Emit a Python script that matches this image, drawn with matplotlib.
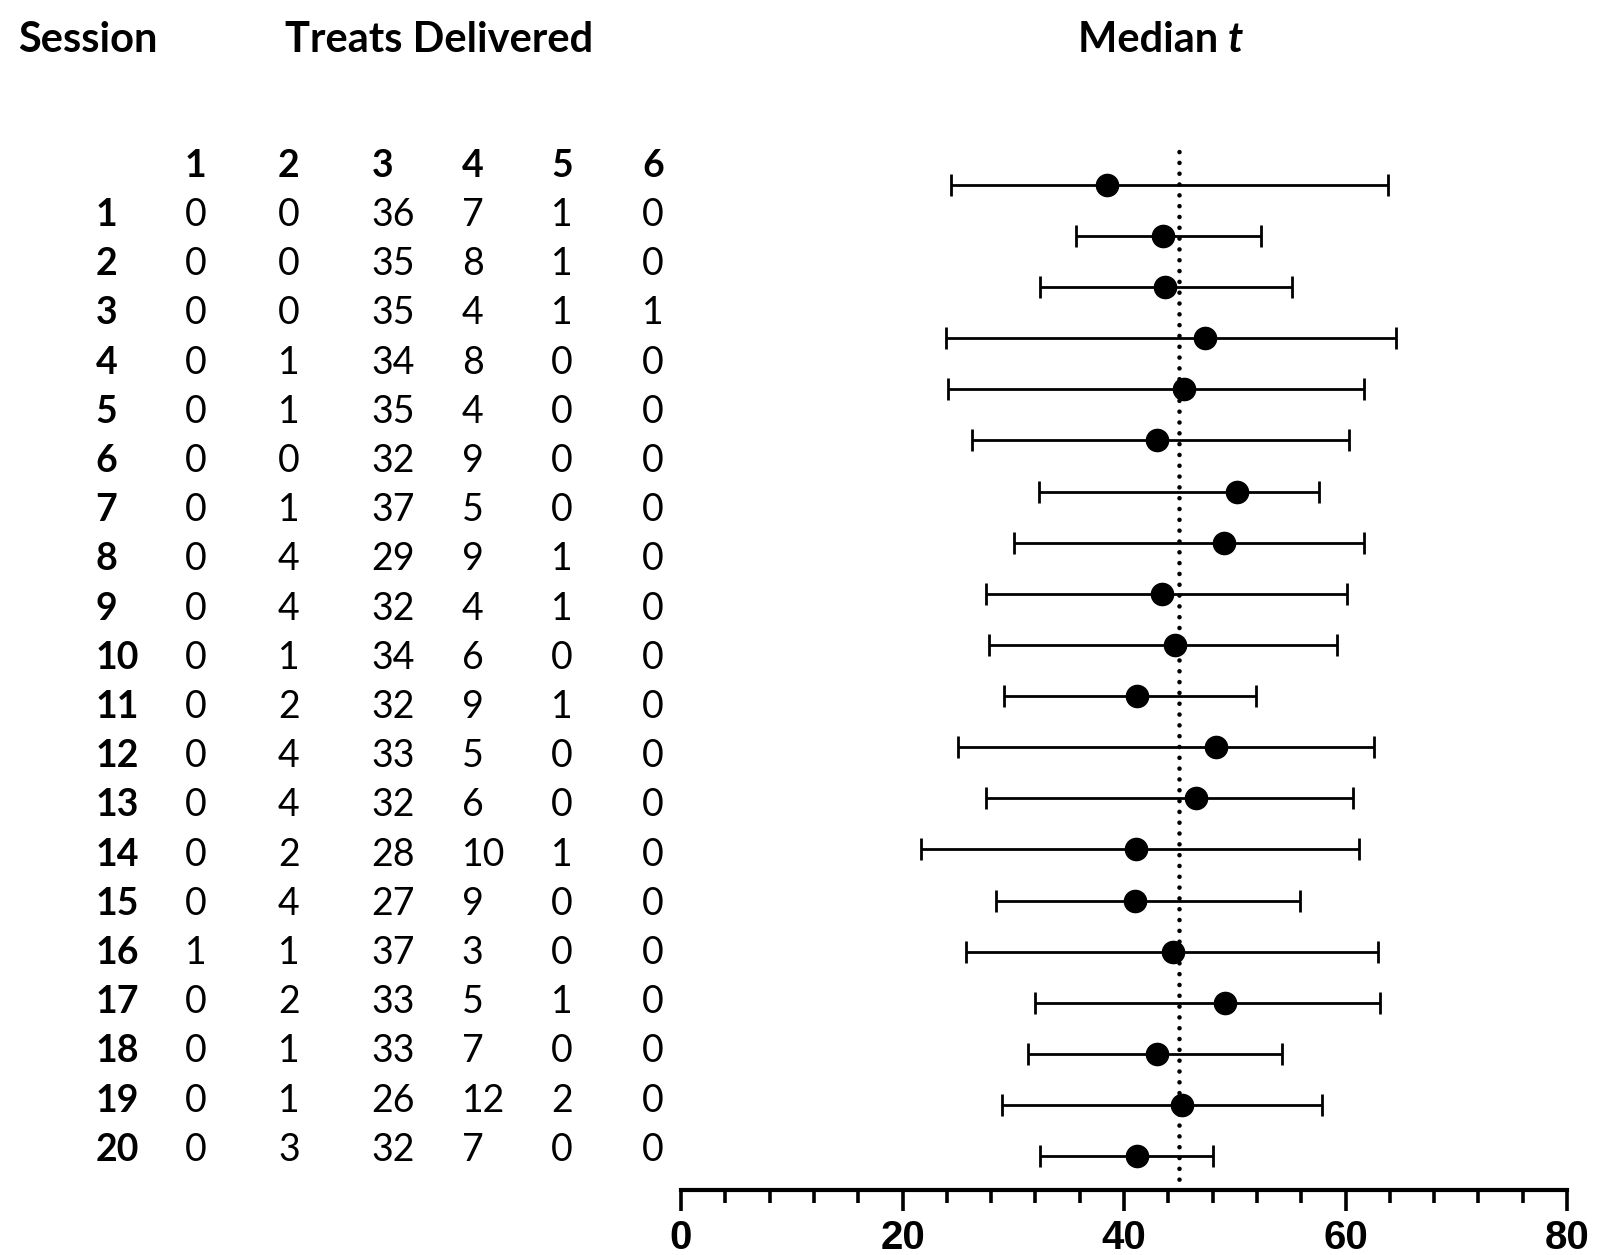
import matplotlib
matplotlib.use("Agg")
from matplotlib import pyplot as plt
import numpy as np

sessions = list(range(1, 21))
treat_cols = ['1', '2', '3', '4', '5', '6']

# treats delivered, one list per column
treats_1 = [0, 0, 0, 0, 0, 0, 0, 0, 0, 0, 0, 0, 0, 0, 0, 1, 0, 0, 0, 0]
treats_2 = [0, 0, 0, 1, 1, 0, 1, 4, 4, 1, 2, 4, 4, 2, 4, 1, 2, 1, 1, 3]
treats_3 = [36, 35, 35, 34, 35, 32, 37, 29, 32, 34, 32, 33, 32, 28, 27, 37, 33, 33, 26, 32]
treats_4 = [7, 8, 4, 8, 4, 9, 5, 9, 4, 6, 9, 5, 6, 10, 9, 3, 5, 7, 12, 7]
treats_5 = [1, 1, 1, 0, 0, 0, 0, 1, 1, 0, 1, 0, 0, 1, 0, 0, 1, 0, 2, 0]
treats_6 = [0, 0, 1, 0, 0, 0, 0, 0, 0, 0, 0, 0, 0, 0, 0, 0, 0, 0, 0, 0]

# median t with range per session
median_t = [38.5, 43.5, 43.7, 47.3, 45.4, 43.0, 50.2, 49.0, 43.4, 44.6,
            41.2, 48.3, 46.5, 41.1, 41.0, 44.4, 49.1, 43.0, 45.2, 41.2]
lower_t = [24.4, 35.7, 32.4, 23.9, 24.1, 26.3, 32.3, 30.1, 27.5, 27.8,
           29.2, 25.0, 27.5, 21.7, 28.4, 25.7, 32.0, 31.3, 29.0, 32.4]
upper_t = [63.8, 52.4, 55.2, 64.6, 61.7, 60.3, 57.6, 61.7, 60.1, 59.2,
           51.9, 62.6, 60.7, 61.2, 55.9, 62.9, 63.1, 54.3, 57.9, 48.0]
ref_line = 45

W, H = 1609, 1255
fig = plt.figure(figsize=(W / 100, H / 100), dpi=100)


def fx(x):
    return x / W


def fy(y):
    return 1 - y / H


txt_font = 'Lato'

# titles
title_y = 40
fig.text(fx(18), fy(title_y), 'Session', fontsize=30, fontweight='bold',
         family=txt_font, ha='left', va='center')
fig.text(fx(439), fy(title_y), 'Treats Delivered', fontsize=30, fontweight='bold',
         family=txt_font, ha='center', va='center')
t1 = fig.text(fx(1161) - 8 / W, fy(title_y), 'Median ', fontsize=30, fontweight='bold',
              family=txt_font, ha='center', va='center')
fig.canvas.draw()
bb = t1.get_window_extent()
fig.text(bb.x1 / W, fy(title_y), 't', fontsize=30, fontweight='bold', style='italic',
         family=txt_font, ha='left', va='center')

# table
col_x = [180, 271, 362, 450, 537, 626]
col_x = [c * 1.026 for c in col_x]
head_y = 166
row_y0, row_dy = 215, 49.2
cols = [treats_1, treats_2, treats_3, treats_4, treats_5, treats_6]
for cx, lab in zip(col_x, treat_cols):
    fig.text(fx(cx), fy(head_y), lab, fontsize=27, fontweight='bold',
             family=txt_font, ha='left', va='center')
for i, s in enumerate(sessions):
    y = row_y0 + i * row_dy
    fig.text(fx(95.5), fy(y), str(s), fontsize=27, fontweight='bold',
             family=txt_font, ha='left', va='center')
    for cx, col in zip(col_x, cols):
        fig.text(fx(cx), fy(y), str(col[i]), fontsize=27,
                 family=txt_font, ha='left', va='center')

# forest plot
ax = fig.add_axes([fx(681), fy(1190), fx(1567) - fx(681), (1190 - 149) / H])
ypos = np.array(sessions)
med = np.array(median_t)
err = [med - np.array(lower_t), np.array(upper_t) - med]
ax.errorbar(med, ypos, xerr=err, fmt='o', color='black', ms=16,
            elinewidth=2.0, capsize=8, capthick=2.0, zorder=3)
ax.axvline(ref_line, color='black', lw=3.3, linestyle=(0, (0.01, 2.35)),
           dash_capstyle='round', zorder=2)

ax.set_xlim(0, 80)
ax.set_ylim(20.66, 0.30)
ax.set_yticks([])
for side in ['left', 'right', 'top']:
    ax.spines[side].set_visible(False)
ax.spines['bottom'].set_linewidth(3)
ax.set_xticks([0, 20, 40, 60, 80])
ax.set_xticks(np.arange(0, 81, 4), minor=True)
ax.tick_params(axis='x', which='major', length=15, width=2.6, direction='out', pad=6)
ax.tick_params(axis='x', which='minor', length=9, width=2.6, direction='out')
for lbl in ax.get_xticklabels():
    lbl.set_fontfamily('Liberation Sans')
    lbl.set_fontweight('bold')
    lbl.set_fontsize(29)
ax.set_facecolor('none')

fig.savefig('out.png', dpi=100)
